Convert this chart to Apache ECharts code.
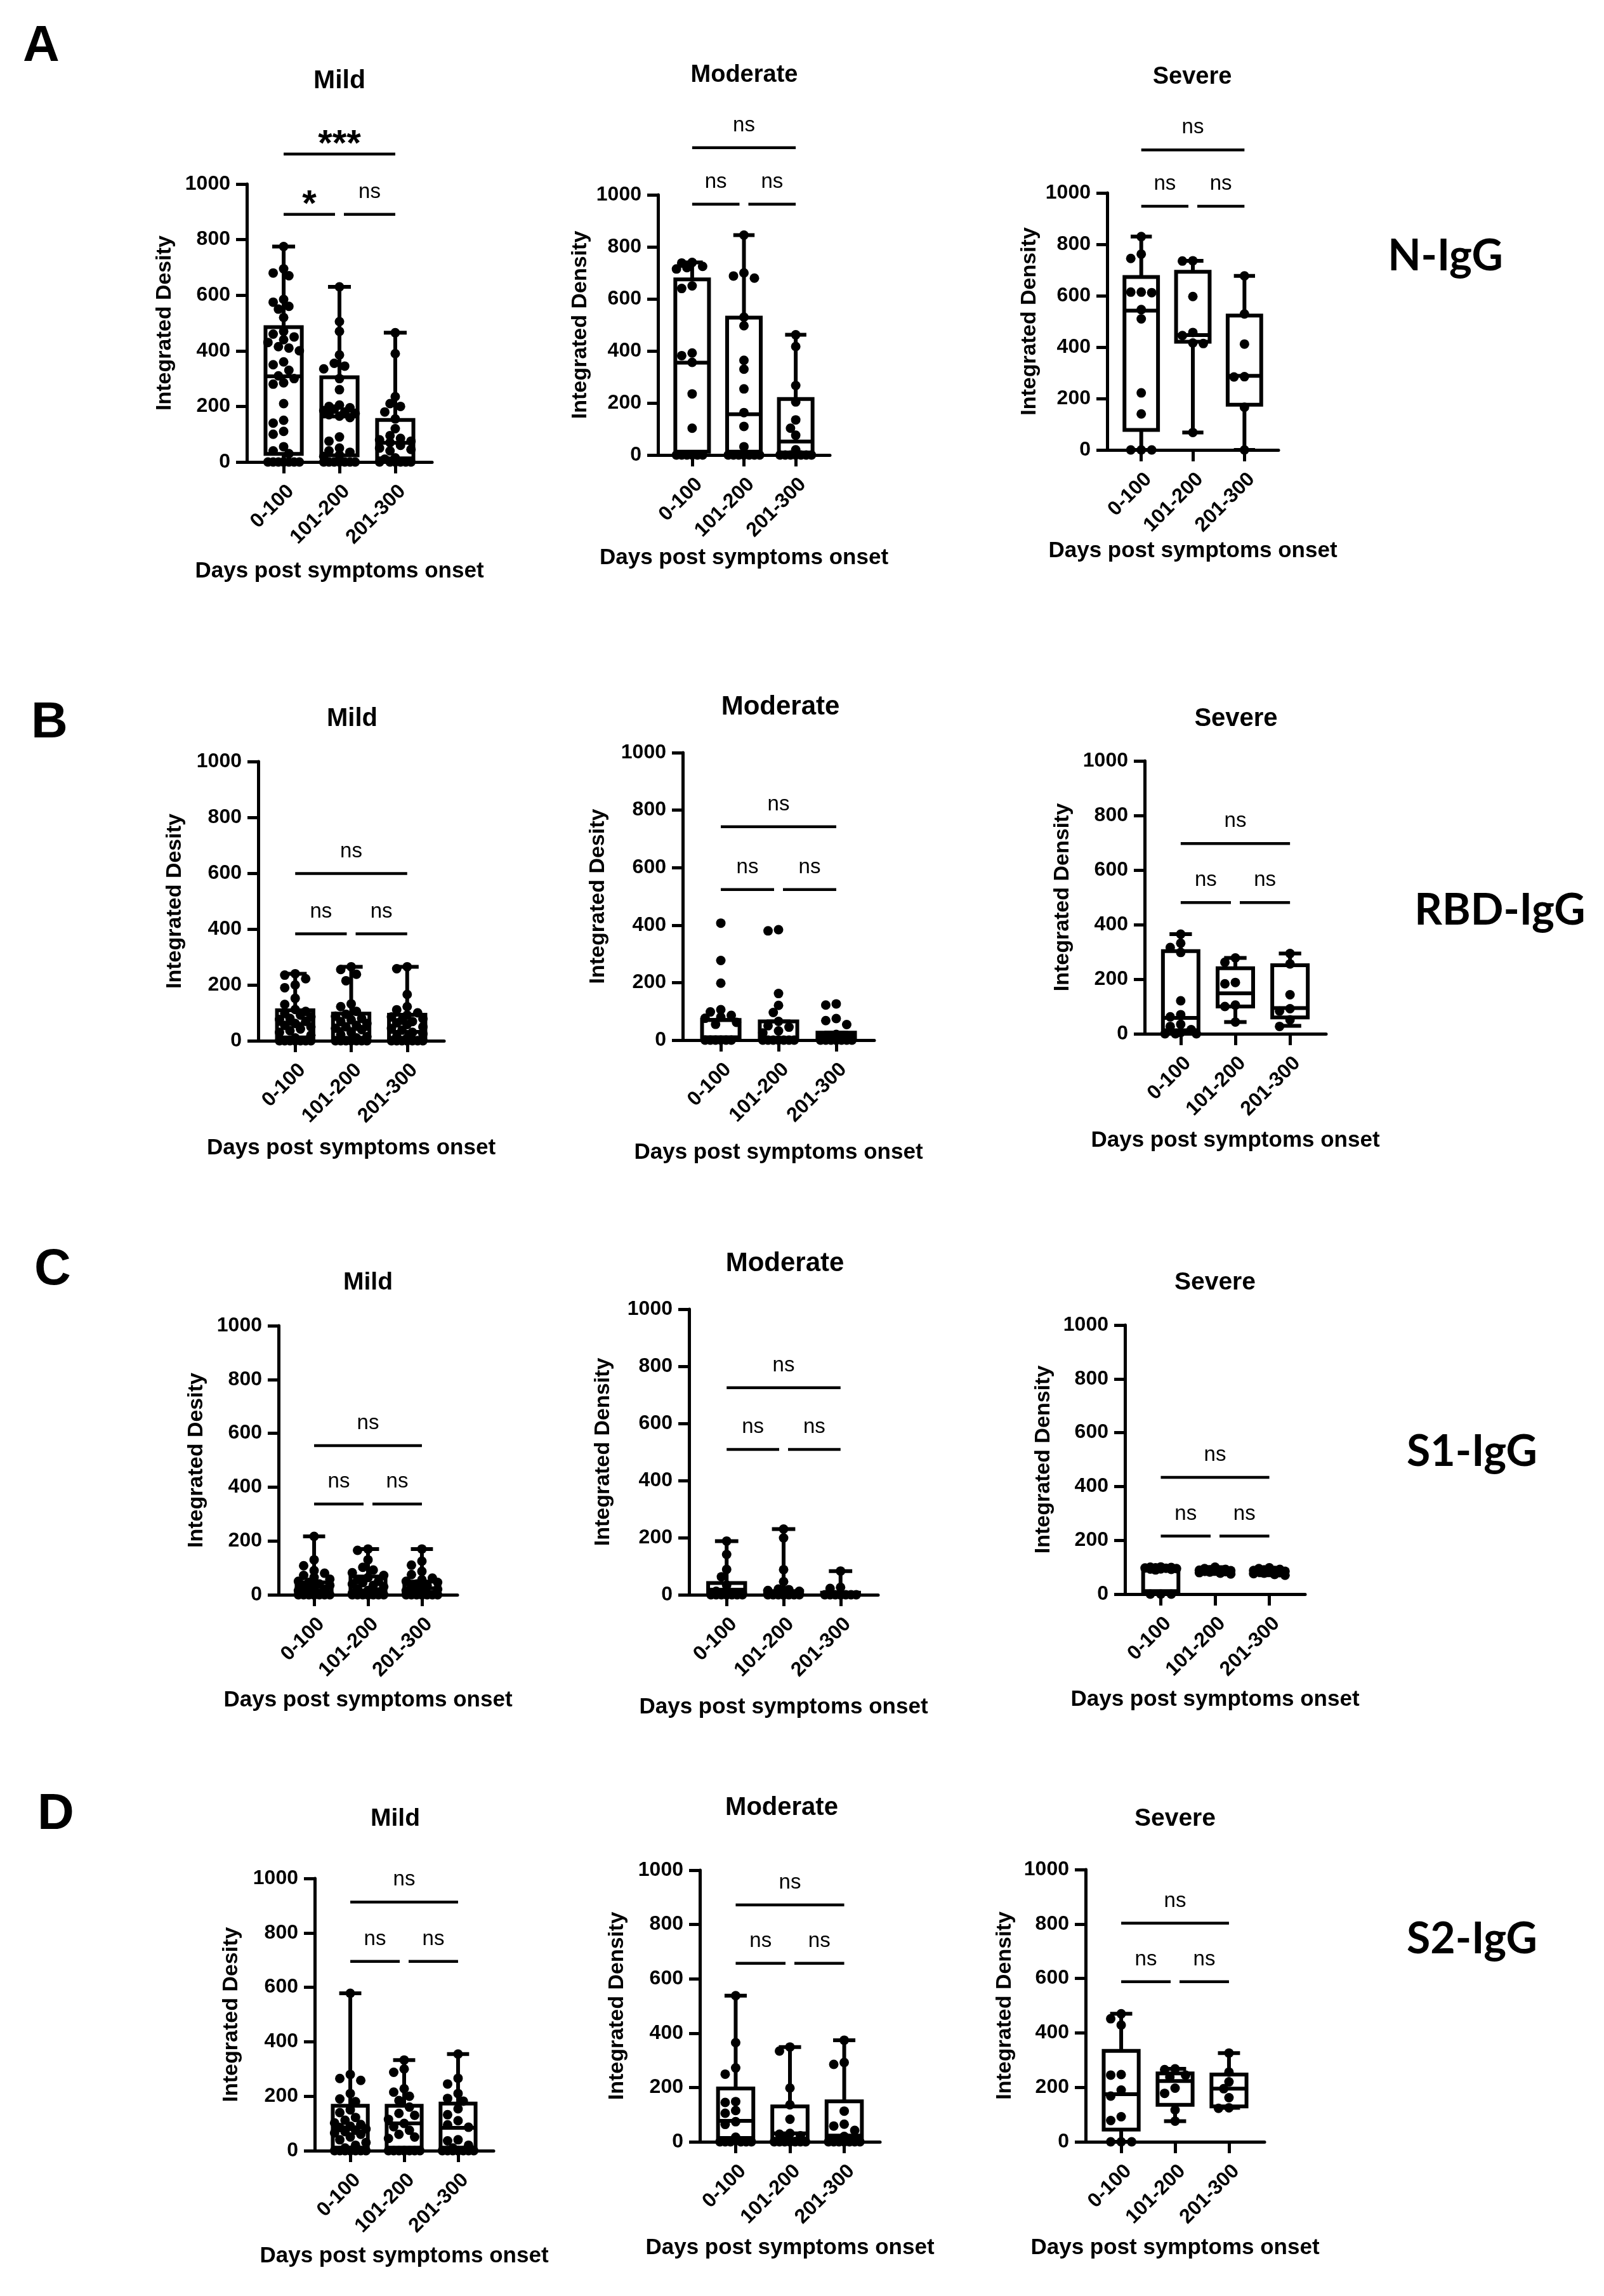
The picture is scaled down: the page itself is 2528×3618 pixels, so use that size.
<!DOCTYPE html>
<html><head><meta charset="utf-8">
<script src="https://cdn.jsdelivr.net/npm/echarts@6/dist/echarts.min.js"></script>
<style>html,body{margin:0;padding:0;background:#fff}#c{width:2528px;height:3618px}</style>
</head><body><div id="c"></div>
<script>
// ---------------- DATA ----------------
const categories = ['0-100', '101-200', '201-300'];
const severities = ['Mild', 'Moderate', 'Severe'];
const antigens = ['N-IgG', 'RBD-IgG', 'S1-IgG', 'S2-IgG'];
const panelLetters = ['A', 'B', 'C', 'D'];
const xAxisName = 'Days post symptoms onset';
const yAxisNames = [
  'Integrated Desity', 'Integrated Density', 'Integrated Density',
  'Integrated Desity', 'Integrated Desity', 'Integrated Density',
  'Integrated Desity', 'Integrated Density', 'Integrated Density',
  'Integrated Desity', 'Integrated Density', 'Integrated Density'
];
// significance labels: [0-100 vs 101-200, 101-200 vs 201-300, 0-100 vs 201-300]
const N_mild_sig = ['*', 'ns', '***'];
const ns_sig = ['ns', 'ns', 'ns'];

// box stats per group: [min, Q1, median, Q3, max]
const N_mild_box = [[0, 29, 308, 485, 775], [0, 24, 164, 305, 630], [0, 13, 69, 151, 465]];
const N_moderate_box = [[0, 13, 355, 675, 740], [0, 13, 157, 528, 845], [0, 10, 52, 215, 462]];
const N_severe_box = [[0, 78, 542, 673, 830], [68, 421, 447, 693, 736], [0, 176, 288, 523, 677]];
const RBD_mild_box = [[0, 12, 60, 109, 240], [0, 10, 42, 97, 265], [0, 10, 32, 93, 265]];
const RBD_moderate_box = [[0, 0, 10, 70, 70], [0, 0, 8, 65, 65], [0, 0, 15, 26, 26]];
const RBD_severe_box = [[0, 13, 58, 303, 365], [43, 100, 148, 240, 278], [29, 60, 94, 251, 294]];
const S1_mild_box = [[0, 11, 29, 46, 217], [0, 5, 16, 68, 170], [0, 5, 24, 49, 170]];
const S1_moderate_box = [[0, 7, 18, 41, 188], [0, 0, 5, 13, 230], [0, 0, 0, 7, 83]];
const S1_severe_box = [[0, 11, 92, 97, 101], [75, 82, 87, 92, 100], [70, 78, 85, 90, 98]];
const S2_mild_box = [[0, 11, 85, 165, 578], [0, 11, 100, 165, 333], [0, 11, 84, 173, 355]];
const S2_moderate_box = [[0, 14, 77, 196, 538], [0, 11, 31, 130, 349], [0, 11, 23, 149, 374]];
const S2_severe_box = [[0, 45, 175, 334, 470], [76, 136, 223, 251, 268], [125, 130, 195, 247, 326]];

// individual points per group
const N_mild_pts = [
  [775,695,680,670,585,575,560,550,520,470,460,450,440,430,415,410,400,360,350,330,310,300,285,280,210,150,140,110,100,55,40,30,0,0,0,0,0,0,0,0],
  [630,505,470,385,355,345,335,300,260,205,200,195,190,185,180,175,170,165,160,90,75,50,40,35,25,20,0,0,0,0,0,0,0],
  [465,390,235,210,200,180,155,120,95,85,80,75,70,60,50,45,40,15,10,0,0,0,0,0,0]
];
const N_moderate_pts = [
  [740,738,725,720,715,650,640,392,382,356,235,103,0,0,0,0,0,0],
  [845,700,688,680,530,497,364,330,254,163,110,32,0,0,0,0,0,0,0],
  [462,417,267,204,135,103,76,20,0,0,0,0,0,0,0]
];
const N_severe_pts = [
  [830,762,745,614,614,612,546,510,222,140,0,0,0],
  [736,735,597,457,445,416,414,68],
  [677,529,412,285,284,166,0]
];
const RBD_mild_pts = [
  [240,235,222,200,190,152,130,112,105,98,92,85,80,76,70,62,55,50,42,36,30,20,10,0,0,0,0,0,0,0,0],
  [265,255,238,215,132,122,105,95,88,80,75,69,62,55,50,45,40,30,22,15,10,0,0,0,0,0,0,0,0],
  [265,258,166,122,111,100,92,85,79,74,69,64,58,50,44,38,30,25,15,10,0,0,0,0,0,0,0,0]
];
const RBD_moderate_pts = [
  [407,277,198,106,98,86,80,76,62,55,0,0,0,0,0,0],
  [384,380,162,121,96,65,50,45,32,25,0,0,0,0,0,0,0],
  [126,122,75,68,54,20,12,0,0,0,0,0,0,0,0]
];
const RBD_severe_pts = [
  [365,332,316,298,121,70,62,35,27,15,5,0,0,0],
  [278,262,188,183,105,100,43],
  [294,256,143,92,83,51,27]
];
const S1_mild_pts = [
  [217,130,108,90,80,72,65,58,50,46,40,35,30,26,20,15,10,5,0,0,0,0,0,0,0,0,0,0],
  [170,165,130,102,92,82,72,64,56,50,45,40,35,30,22,16,10,5,0,0,0,0,0,0,0,0,0,0],
  [170,125,110,87,75,62,56,50,46,40,35,30,25,20,15,10,5,0,0,0,0,0,0,0,0,0]
];
const S1_moderate_pts = [
  [188,141,89,63,34,12,8,5,0,0,0,0,0,0,0,0],
  [230,199,88,46,20,18,15,12,0,0,0,0,0,0,0,0,0,0,0,0],
  [83,26,22,0,0,0,0,0,0,0,0,0,0]
];
const S1_severe_pts = [
  [101,100,99,98,97,96,95,94,93,92,90,0,0,0],
  [100,95,92,90,89,88,87,86,85,84,82,80,78,75],
  [98,95,92,90,88,87,85,84,82,80,78,76,73,70]
];
const S2_mild_pts = [
  [578,280,265,258,210,190,180,150,140,122,112,102,96,90,85,80,75,70,65,60,50,40,30,20,10,0,0,0,0,0,0,0,0],
  [333,300,288,228,215,200,184,160,137,130,115,100,88,75,60,50,45,0,0,0,0,0,0,0,0],
  [355,266,245,210,192,182,154,132,110,95,86,40,36,20,10,0,0,0,0,0,0,0,0]
];
const S2_moderate_pts = [
  [538,365,272,249,148,145,115,105,74,64,17,0,0,0,0,0,0],
  [349,334,198,136,83,31,28,22,18,0,0,0,0,0,0,0,0],
  [374,292,285,113,65,58,42,20,0,0,0,0,0,0,0,0]
];
const S2_severe_pts = [
  [470,452,429,247,245,190,168,92,78,0,0,0],
  [268,265,245,238,197,178,117,76],
  [326,256,220,195,162,125,123]
];

const panelBoxes = [N_mild_box, N_moderate_box, N_severe_box, RBD_mild_box, RBD_moderate_box, RBD_severe_box,
  S1_mild_box, S1_moderate_box, S1_severe_box, S2_mild_box, S2_moderate_box, S2_severe_box];
const panelPoints = [N_mild_pts, N_moderate_pts, N_severe_pts, RBD_mild_pts, RBD_moderate_pts, RBD_severe_pts,
  S1_mild_pts, S1_moderate_pts, S1_severe_pts, S2_mild_pts, S2_moderate_pts, S2_severe_pts];
const panelSig = [N_mild_sig, ns_sig, ns_sig, ns_sig, ns_sig, ns_sig, ns_sig, ns_sig, ns_sig, ns_sig, ns_sig, ns_sig];

// ---------------- LAYOUT (pixels) ----------------
// g: [left, right, top, bottom] of plot area; t: [title cx, cy, font]; yd/xd: distance axis -> name centre; br: bracket levels (data units)
const layout = [
  {g:[389,681,290,728],   t:[535,128,41],   yd:129, xd:172, br:[891,1108]},
  {g:[1037,1308,307,717], t:[1173,119,38],  yd:122, xd:162, br:[964,1181]},
  {g:[1745,2015,304,709], t:[1879,122,38],  yd:122, xd:159, br:[948,1167]},
  {g:[407,700,1200,1640], t:[555,1133,40],  yd:131, xd:169, br:[383,599]},
  {g:[1076,1378,1186,1639], t:[1230,1114,42], yd:133, xd:177, br:[524,742]},
  {g:[1804,2090,1199,1629], t:[1948,1133,40], yd:129, xd:168, br:[481,697]},
  {g:[439,721,2089,2513], t:[580,2021,39],  yd:129, xd:166, br:[337,554]},
  {g:[1086,1384,2063,2513], t:[1237,1991,42], yd:135, xd:177, br:[509,725]},
  {g:[1773,2057,2088,2512], t:[1915,2021,39], yd:128, xd:166, br:[216,434]},
  {g:[496,778,2960,3389], t:[623,2866,39],  yd:131, xd:166, br:[695,913]},
  {g:[1103,1387,2947,3375], t:[1232,2849,40], yd:130, xd:167, br:[657,872]},
  {g:[1711,1993,2946,3375], t:[1852,2866,39], yd:127, xd:167, br:[588,803]}
];
const letterPos = [[65,74],[78,1140],[83,2002],[88,2860]];
const antigenPos = [[2278,404],[2364,1435],[2320,2288],[2320,3056]];
const xMin = -0.66, xMax = 2.66;
const FF = '"Liberation Sans", Arial, sans-serif';
const DOT = 15;
const NAME_FS = 35;

// deterministic beeswarm (spreads points with similar values horizontally)
function swarm(values, pxPerUnit, spacingPx, maxHalf) {
  const order = values.map((v, i) => i).sort((a, b) => values[b] - values[a]);
  const placed = [];
  const off = new Array(values.length).fill(0);
  const step = DOT * 0.55;
  order.forEach(i => {
    const y = values[i] * pxPerUnit;
    let best = 0, bestScore = -Infinity, done = false;
    for (let k = 0; k <= 10 && !done; k++) {
      const cands = k === 0 ? [0] : [-k, k];
      for (const c of cands) {
        const x = c * step;
        if (Math.abs(x) > maxHalf) continue;
        let minD = Infinity;
        for (const p of placed) { const d = Math.hypot(p.x - x, p.y - y); if (d < minD) minD = d; }
        if (minD >= DOT * 0.9) { best = x; done = true; break; }
        if (minD > bestScore) { bestScore = minD; best = x; }
      }
    }
    placed.push({x: best, y});
    off[i] = best / spacingPx;
  });
  return off;
}

const grids = [], xAxes = [], yAxes = [], series = [], graphics = [];
layout.forEach((L, i) => {
  const w = L.g[1] - L.g[0], h = L.g[3] - L.g[2];
  grids.push({left: L.g[0], top: L.g[2], width: w, height: h, containLabel: false});
  xAxes.push({
    gridIndex: i, type: 'value', min: xMin, max: xMax,
    name: xAxisName, nameLocation: 'middle', nameGap: L.xd - NAME_FS / 2,
    nameTextStyle: {fontSize: NAME_FS, fontWeight: 'bold', color: '#000', fontFamily: FF},
    axisLine: {show: true, onZero: false, lineStyle: {color: '#000', width: 5}},
    axisTick: {show: true, customValues: [0, 1, 2], length: 18, lineStyle: {color: '#000', width: 5}},
    axisLabel: {show: true, customValues: [0, 1, 2], formatter: v => categories[Math.round(v)],
      rotate: 45, align: 'right', verticalAlign: 'top', margin: 30,
      fontSize: 32, fontWeight: 'bold', color: '#000', fontFamily: FF},
    splitLine: {show: false}
  });
  yAxes.push({
    gridIndex: i, type: 'value', min: 0, max: 1000, interval: 200,
    name: yAxisNames[i], nameLocation: 'middle', nameGap: L.yd - 17,
    nameTextStyle: {fontSize: 34, fontWeight: 'bold', color: '#000', fontFamily: FF},
    axisLine: {show: true, onZero: false, lineStyle: {color: '#000', width: 5}},
    axisTick: {show: true, length: 17, lineStyle: {color: '#000', width: 5}},
    axisLabel: {margin: 26, fontSize: 32, fontWeight: 'bold', color: '#000', fontFamily: FF,
      formatter: v => String(v)},
    splitLine: {show: false}
  });

  // boxes
  series.push({
    type: 'custom', xAxisIndex: i, yAxisIndex: i, clip: false, z: 3, silent: true,
    data: panelBoxes[i].map((b, k) => [k].concat(b)),
    renderItem: (params, api) => {
      const x = api.value(0);
      const mn = api.coord([x, api.value(1)]);
      const q1 = api.coord([x, api.value(2)]);
      const md = api.coord([x, api.value(3)]);
      const q3 = api.coord([x, api.value(4)]);
      const mx = api.coord([x, api.value(5)]);
      const sp = api.size([1, 0])[0];
      const bw = sp * 0.65 / 2, cw = sp * 0.41 / 2, cx = mn[0];
      const st = {stroke: '#000', lineWidth: 6, fill: null};
      return {type: 'group', children: [
        {type: 'line', shape: {x1: cx, y1: mx[1], x2: cx, y2: q3[1]}, style: st},
        {type: 'line', shape: {x1: cx, y1: q1[1], x2: cx, y2: mn[1]}, style: st},
        {type: 'line', shape: {x1: cx - cw, y1: mx[1], x2: cx + cw, y2: mx[1]}, style: st},
        {type: 'line', shape: {x1: cx - cw, y1: mn[1], x2: cx + cw, y2: mn[1]}, style: st},
        {type: 'rect', shape: {x: cx - bw, y: q3[1], width: 2 * bw, height: q1[1] - q3[1]},
          style: {stroke: '#000', lineWidth: 6, fill: 'rgba(255,255,255,0)'}},
        {type: 'line', shape: {x1: cx - bw, y1: md[1], x2: cx + bw, y2: md[1]}, style: st}
      ]};
    }
  });

  // points
  const spacing = w / (xMax - xMin);
  const pxPerUnit = h / 1000;
  const pts = [];
  panelPoints[i].forEach((vals, k) => {
    const off = swarm(vals, pxPerUnit, spacing, spacing * 0.65 / 2);
    vals.forEach((v, j) => pts.push([k + off[j], v]));
  });
  series.push({
    type: 'scatter', xAxisIndex: i, yAxisIndex: i, clip: false, z: 4, silent: true,
    symbol: 'circle', symbolSize: DOT, itemStyle: {color: '#000', opacity: 1}, data: pts
  });

  // significance brackets
  const sig = panelSig[i];
  const gap = 7 / spacing;
  const br = [[0, 1 - gap, L.br[0], 0], [1 + gap, 2, L.br[0], 1], [0, 2, L.br[1], 2]];
  series.push({
    type: 'custom', xAxisIndex: i, yAxisIndex: i, clip: false, z: 5, silent: true,
    data: br,
    renderItem: (params, api) => {
      const a = api.coord([api.value(0), api.value(2)]);
      const b = api.coord([api.value(1), api.value(2)]);
      const label = sig[api.value(3)];
      const star = label.indexOf('*') >= 0;
      const midX = (a[0] + b[0]) / 2;
      const font = star ? 'bold 58px ' + FF : '33px ' + FF;
      return {type: 'group', children: [
        {type: 'line', shape: {x1: a[0], y1: a[1], x2: b[0], y2: b[1]}, style: {stroke: '#000', lineWidth: 4.5}},
        {type: 'text', style: {text: label, x: midX, y: a[1] - (star ? 14 : 35), font: font,
          align: 'center', verticalAlign: 'middle', textAlign: 'center', textVerticalAlign: 'middle', fill: '#000'}}
      ]};
    }
  });

  // panel title
  graphics.push({type: 'text', x: L.t[0], y: L.t[1], silent: true,
    style: {text: severities[i % 3], font: 'bold ' + L.t[2] + 'px ' + FF, fill: '#000',
      align: 'center', verticalAlign: 'middle', textAlign: 'center', textVerticalAlign: 'middle'}});
});

panelLetters.forEach((l, r) => {
  graphics.push({type: 'text', x: letterPos[r][0], y: letterPos[r][1], silent: true,
    style: {text: l, font: 'bold 80px ' + FF, fill: '#000', align: 'center', verticalAlign: 'middle',
      textAlign: 'center', textVerticalAlign: 'middle'}});
  graphics.push({type: 'text', x: antigenPos[r][0], y: antigenPos[r][1], silent: true,
    style: {text: antigens[r], font: 'bold 68px Lato, "Open Sans", sans-serif', fill: '#000', align: 'center',
      verticalAlign: 'middle', textAlign: 'center', textVerticalAlign: 'middle'}});
});

const chart = echarts.init(document.getElementById('c'), null, {renderer: 'canvas', width: 2528, height: 3618});
chart.setOption({
  backgroundColor: '#fff',
  animation: false,
  textStyle: {fontFamily: FF},
  grid: grids, xAxis: xAxes, yAxis: yAxes, series: series, graphic: graphics
});
</script></body></html>
